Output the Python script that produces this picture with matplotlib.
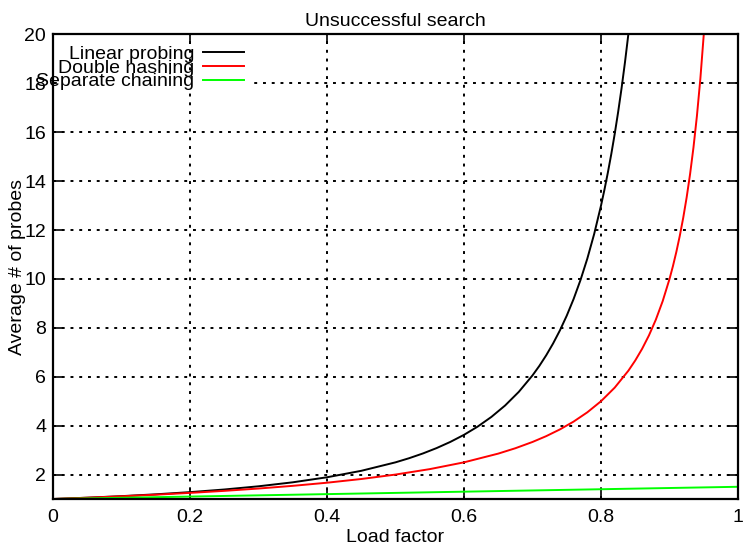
import matplotlib
matplotlib.use('Agg')
from matplotlib import pyplot as plt
from matplotlib.patches import Rectangle
import matplotlib.transforms as mtransforms

plt.rcParams['font.family'] = ['Liberation Sans', 'DejaVu Sans']

# load factor / average probes
lp_x = [0, 0.05, 0.1, 0.15, 0.2, 0.25, 0.3, 0.35, 0.4, 0.45, 0.5, 0.52, 0.54, 0.56, 0.58, 0.6,
        0.62, 0.64, 0.66, 0.68, 0.7, 0.71, 0.72, 0.73, 0.74, 0.75, 0.76, 0.77, 0.78, 0.79,
        0.8, 0.805, 0.81, 0.815, 0.82, 0.825, 0.83, 0.835, 0.84, 0.845]
lp_y = [1.0, 1.054, 1.117, 1.192, 1.281, 1.389, 1.520, 1.683, 1.889, 2.153, 2.5, 2.670, 2.863,
        3.083, 3.335, 3.625, 3.963, 4.358, 4.825, 5.383, 6.056, 6.445, 6.878, 7.359, 7.896, 8.5,
        9.181, 9.952, 10.831, 11.838, 13.0, 13.649, 14.351, 15.109, 15.932, 16.827, 17.801,
        18.866, 20.031, 21.31]

dh_x = [0, 0.05, 0.1, 0.15, 0.2, 0.25, 0.3, 0.35, 0.4, 0.45, 0.5, 0.55, 0.6, 0.65, 0.675,
        0.7, 0.72, 0.74, 0.76, 0.78, 0.8, 0.82, 0.84, 0.85, 0.86, 0.87, 0.88, 0.89, 0.9, 0.905,
        0.91, 0.915, 0.92, 0.925, 0.93, 0.935, 0.94, 0.945, 0.95, 0.955]
dh_y = [1.0, 1.0526, 1.1111, 1.1765, 1.25, 1.3333, 1.4286, 1.5385, 1.6667, 1.8182, 2.0, 2.2222,
        2.5, 2.8571, 3.0769, 3.3333, 3.5714, 3.8462, 4.1667, 4.5455, 5.0, 5.5556, 6.25, 6.6667,
        7.1429, 7.6923, 8.3333, 9.0909, 10.0, 10.526, 11.111, 11.765, 12.5, 13.333, 14.286,
        15.385, 16.667, 18.182, 20.0, 22.22]

sc_x = [0, 0.5, 1.0]
sc_y = [1.0, 1.25, 1.5]

x_ticks = [0, 0.2, 0.4, 0.6, 0.8, 1]
x_labels = ['0', '0.2', '0.4', '0.6', '0.8', '1']
y_ticks = [2, 4, 6, 8, 10, 12, 14, 16, 18, 20]

fig = plt.figure(figsize=(7.46, 5.44), dpi=100)
ax = fig.add_axes([0.0710, 0.0827, 0.9183, 0.8539])

ax.plot(lp_x, lp_y, color='black', lw=1.4, label='Linear probing')
ax.plot(dh_x, dh_y, color='#ff0000', lw=1.4, label='Double hashing')
ax.plot(sc_x, sc_y, color='#00ff00', lw=1.4, label='Separate chaining')

ax.set_xlim(0, 1)
ax.set_ylim(1, 20)
ax.set_xticks(x_ticks)
ax.set_xticklabels(x_labels)
ax.set_yticks(y_ticks)
ax.grid(True, color='black', linestyle=(0, (1.5, 3)), lw=1.4)
ax.tick_params(direction='in', length=7, width=1.2, top=True, right=True,
               labelsize=14, colors='black', pad=7)
ax.tick_params(axis='y', pad=5)
for s in ax.spines.values():
    s.set_linewidth(1.6)

# gap in the 18 grid line behind the key
trans = mtransforms.blended_transform_factory(ax.transAxes, ax.transData)
ax.add_patch(Rectangle((0.006, 17.6), 0.281, 0.8, transform=trans,
                       facecolor='white', edgecolor='none', zorder=1.7))

ax.set_title('Unsuccessful search', fontsize=14, pad=6)
ax.set_xlabel('Load factor', fontsize=14, labelpad=2)
ax.set_ylabel('Average # of probes', fontsize=14)
ax.yaxis.set_label_coords(-0.040, 0.5)

leg = ax.legend(loc='upper left', bbox_to_anchor=(-0.03, 0.985), markerfirst=False,
                frameon=False, fontsize=14, labelspacing=-0.2, handlelength=2.1,
                handletextpad=0.45, borderaxespad=0.0, borderpad=0.2)
for t in leg.get_texts():
    t.set_ha('right')

fig.savefig('out.png', dpi=100)
